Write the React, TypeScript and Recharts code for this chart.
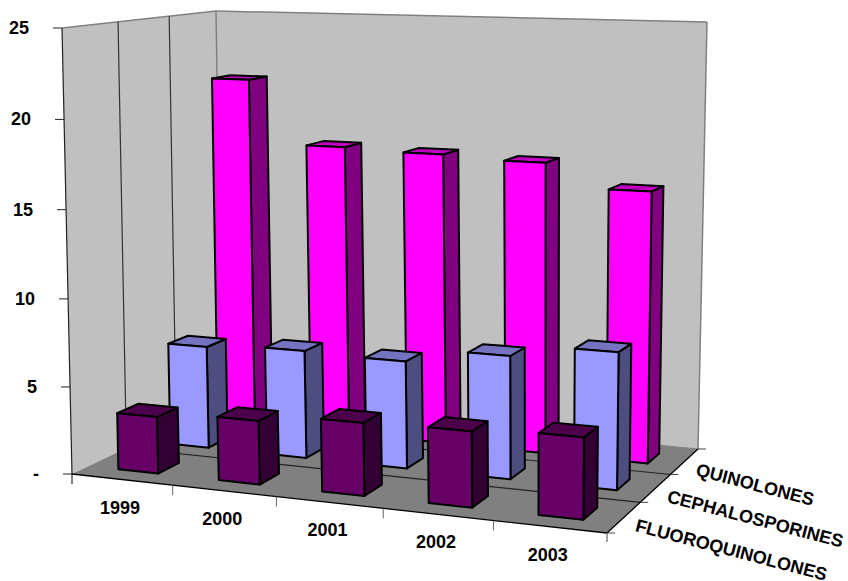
import { Bar, BarChart, Customized, XAxis, YAxis } from 'recharts';

const YEARS = ['1999', '2000', '2001', '2002', '2003'];
const SERIES_NAMES = ['FLUOROQUINOLONES', 'CEPHALOSPORINES', 'QUINOLONES'];
const QUINOLONES = [21.2, 17.4, 17.25, 17.05, 15.7];
const CEPHALOSPORINES = [6.05, 6.3, 6.2, 7.0, 7.7];
const FLUOROQUINOLONES = [3.25, 3.6, 4.05, 4.15, 4.4];
const VALUE_TICKS = [0, 5, 10, 15, 20, 25];

const rows = YEARS.map((year, i) => ({
  year,
  quinolones: QUINOLONES[i],
  cephalosporines: CEPHALOSPORINES[i],
  fluoroquinolones: FLUOROQUINOLONES[i],
}));

const WIDTH = 848;
const HEIGHT = 581;
const PLOT_TOP = 28;
const PLOT_BOTTOM = 474;
const MAX_VALUE = 25;

type Pt = [number, number];

// unit square -> quad, corners in order (0,0) (1,0) (1,1) (0,1)
const quadMap = ([p0, p1, p2, p3]: Pt[]) => {
  const dx1 = p1[0] - p2[0];
  const dx2 = p3[0] - p2[0];
  const dy1 = p1[1] - p2[1];
  const dy2 = p3[1] - p2[1];
  const sx = p0[0] - p1[0] + p2[0] - p3[0];
  const sy = p0[1] - p1[1] + p2[1] - p3[1];
  const den = dx1 * dy2 - dx2 * dy1;
  const g = (sx * dy2 - dx2 * sy) / den;
  const h = (dx1 * sy - sx * dy1) / den;
  return (u: number, w: number): Pt => {
    const q = g * u + h * w + 1;
    return [
      ((p1[0] - p0[0] + g * p1[0]) * u + (p3[0] - p0[0] + h * p3[0]) * w + p0[0]) / q,
      ((p1[1] - p0[1] + g * p1[1]) * u + (p3[1] - p0[1] + h * p3[1]) * w + p0[1]) / q,
    ];
  };
};

// box corners: front left, front right, back right, back left
const floorAt = quadMap([[72, 474], [607, 533], [698, 449], [222, 402.5]]);
const ceilingAt = quadMap([[62, 28], [613, 43], [707, 22], [216, 11]]);

// u runs along the years, w runs front to back, t is the share of the value axis
const project = (u: number, w: number, t: number): Pt => {
  const lift = (t * 0.97) / (1 - 0.03 * t);
  const a = floorAt(u, w);
  const b = ceilingAt(u, w);
  return [a[0] + (b[0] - a[0]) * lift, a[1] + (b[1] - a[1]) * lift];
};

const path = (pts: Pt[]) => pts.map((p) => `${p[0].toFixed(1)},${p[1].toFixed(1)}`).join(' ');

const textStyle = {
  fontFamily: '"Liberation Sans", Arial, sans-serif',
  fontWeight: 700,
  fontSize: 18,
  fill: '#000',
};

const makeBox = (row: number, front: string, side: string, top: string) => (props: any) => {
  const t = props.height / (PLOT_BOTTOM - PLOT_TOP);
  const u0 = (props.index + 0.3) / 5;
  const u1 = (props.index + 0.7) / 5;
  const w0 = (row + 0.3) / 3;
  const w1 = (row + 0.7) / 3;
  const stroke = { stroke: '#000', strokeWidth: 2, strokeLinejoin: 'round' as const };
  return (
    <g>
      <polygon
        points={path([project(u1, w0, 0), project(u1, w1, 0), project(u1, w1, t), project(u1, w0, t)])}
        fill={side}
        {...stroke}
      />
      <polygon
        points={path([project(u0, w0, t), project(u1, w0, t), project(u1, w1, t), project(u0, w1, t)])}
        fill={top}
        {...stroke}
      />
      <polygon
        points={path([project(u0, w0, 0), project(u1, w0, 0), project(u1, w0, t), project(u0, w0, t)])}
        fill={front}
        {...stroke}
      />
    </g>
  );
};

const Frame = () => {
  const line = (a: Pt, b: Pt, color: string, width = 1.2, key?: string) => (
    <line key={key} x1={a[0]} y1={a[1]} x2={b[0]} y2={b[1]} stroke={color} strokeWidth={width} />
  );
  return (
    <g>
      <polygon
        points={path([project(0, 0, 0), project(0, 1, 0), project(0, 1, 1), project(0, 0, 1)])}
        fill="#c0c0c0"
      />
      <polygon
        points={path([project(0, 1, 0), project(1, 1, 0), project(1, 1, 1), project(0, 1, 1)])}
        fill="#c0c0c0"
      />
      <polygon
        points={path([project(0, 0, 0), project(1, 0, 0), project(1, 1, 0), project(0, 1, 0)])}
        fill="#808080"
      />
      {line(project(0, 0, 1), project(0, 1, 1), '#808080', 1.5)}
      {line(project(0, 1, 1), project(1, 1, 1), '#808080', 1.5)}
      {line(project(1, 1, 1), project(1, 1, 0), '#808080', 1.5)}
      {line(project(0, 1, 0), project(0, 1, 1), '#808080', 1.5)}
      {line(project(1, 1, 0), project(0, 1, 0), '#808080', 1)}
      {[1 / 3, 2 / 3].map((w) => (
        <g key={w}>
          {line(project(0, w, 1), project(0, w, 0), '#333')}
          {line(project(0, w, 0), project(1, w, 0), '#222')}
        </g>
      ))}
      {line(project(0, 0, 1), project(0, 0, 0), '#222')}
      {line(project(0, 0, 0), project(1, 0, 0), '#000', 1.3)}
      {line(project(1, 0, 0), project(1, 1, 0), '#000', 1.3)}
      {YEARS.map((_, i) => {
        const p = project(i / 5, 0, 0);
        return line(p, [p[0], p[1] + 10], i === 0 ? '#000' : '#666', 1, `u${i}`);
      })}
      {line(project(1, 0, 0), [project(1, 0, 0)[0], project(1, 0, 0)[1] + 9], '#666')}
      {[0, 1, 2, 3].map((k) => {
        const p = project(1, k / 3, 0);
        return line(p, [p[0] + 8, p[1]], '#444', 1, `w${k}`);
      })}
      {SERIES_NAMES.map((name, k) => {
        const p = project(1, (k + 0.5) / 3, 0);
        return (
          <text
            key={name}
            x={p[0] + 12}
            y={p[1] + 8}
            dominantBaseline="central"
            transform={`rotate(14.6 ${p[0] + 12} ${p[1] + 8})`}
            style={textStyle}
          >
            {name}
          </text>
        );
      })}
    </g>
  );
};

const ValueTick = (props: any) => {
  const v = props.payload.value;
  const p = project(0, 0, v / MAX_VALUE);
  return (
    <g>
      <line x1={p[0] - 9} y1={p[1]} x2={p[0]} y2={p[1]} stroke="#222" strokeWidth={1} />
      <text x={p[0] - 33} y={p[1]} textAnchor="end" dominantBaseline="central" style={textStyle}>
        {v === 0 ? '-' : v}
      </text>
    </g>
  );
};

const YearTick = (props: any) => {
  const p = project((props.index + 0.5) / 5, 0, 0);
  return (
    <text x={p[0] - 2} y={p[1] + 28} textAnchor="middle" dominantBaseline="central" style={textStyle}>
      {props.payload.value}
    </text>
  );
};

export default function App() {
  return (
    <div style={{ position: 'absolute', left: 0, top: 0, width: WIDTH, height: HEIGHT, background: '#fff' }}>
      <BarChart
        width={WIDTH}
        height={HEIGHT}
        data={rows}
        margin={{ top: PLOT_TOP, bottom: HEIGHT - PLOT_BOTTOM - 1, left: 61, right: 140 }}
      >
        <Customized component={<Frame />} />
        <XAxis
          dataKey="year"
          height={1}
          interval={0}
          axisLine={false}
          tickLine={false}
          tick={<YearTick />}
        />
        <YAxis
          width={1}
          domain={[0, MAX_VALUE]}
          ticks={VALUE_TICKS}
          interval={0}
          axisLine={false}
          tickLine={false}
          tick={<ValueTick />}
        />
        <Bar dataKey="quinolones" isAnimationActive={false} shape={makeBox(2, '#ff00ff', '#800080', '#c000c0')} />
        <Bar dataKey="cephalosporines" isAnimationActive={false} shape={makeBox(1, '#9999ff', '#4d4d80', '#7373bf')} />
        <Bar dataKey="fluoroquinolones" isAnimationActive={false} shape={makeBox(0, '#660066', '#330033', '#4c004c')} />
      </BarChart>
    </div>
  );
}
